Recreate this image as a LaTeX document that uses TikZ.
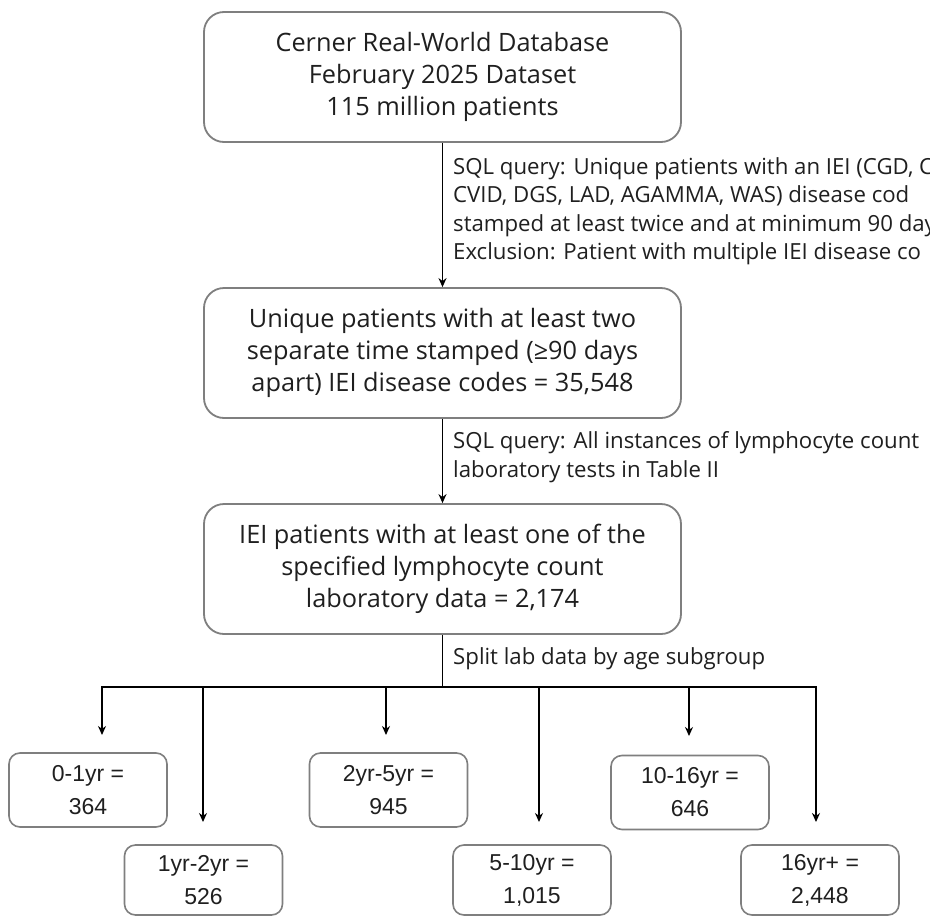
\documentclass[tikz,border=0pt]{standalone}
\usepackage{fontspec}
\setmainfont{Open Sans}
\newfontfamily\arialf{Liberation Sans}
\usetikzlibrary{arrows.meta}
\definecolor{boxgray}{HTML}{7F7F7F}
\definecolor{txt}{HTML}{1F1F1F}
\begin{document}
\begin{tikzpicture}[x=1pt,y=-1pt,
  box/.style={draw=boxgray, line width=1.8pt, rounded corners=20pt, align=center, text=txt,
    font=\fontsize{25.3}{32}\selectfont, minimum width=477pt, minimum height=130pt, inner sep=0pt},
  sbox/.style={draw=boxgray, line width=1.6pt, rounded corners=11pt, align=center, text=txt,
    font=\arialf\fontsize{23}{33}\selectfont, minimum width=158pt, minimum height=74pt, inner sep=0pt},
  lbl/.style={anchor=west, align=left, text=txt, inner sep=0pt, font=\fontsize{22.2}{28.5}\selectfont},
  arr/.style={line width=1.7pt, -{Stealth[length=9pt,width=8pt]}},
  ln/.style={line width=1.9pt}
]
\useasboundingbox (0,0) rectangle (930,916);
\fill[white] (0,0) rectangle (930,916);

% main boxes
\node[box] (b1) at (442.5,77) {Cerner Real-World Database\\February 2025 Dataset\\115 million patients};
\node[box] (b2) at (442.5,353) {Unique patients with at least two\\separate time stamped (≥90 days\\apart) IEI disease codes = 35,548};
\node[box] (b3) at (442.5,569) {IEI patients with at least one of the\\specified lymphocyte count\\laboratory data = 2,174};

\draw[arr] (b1.south) -- (b2.north);
\draw[arr] (b2.south) -- (b3.north);

% labels (cut at the right edge as in the source)
\node[lbl] (l1) at (453,211) {SQL query: Unique patients with an IEI (CGD, C\\CVID, DGS, LAD, AGAMMA, WAS) disease cod\\stamped at least twice and at minimum 90 day\\Exclusion: Patient with multiple IEI disease co};
\node[lbl] (l2) at (453,457) {SQL query: All instances of lymphocyte count\\laboratory tests in Table II};
\node[lbl] (l3) at (453,659) {Split lab data by age subgroup};

% bus
\coordinate (j) at (442.5,687);
\coordinate (bl) at (102,687);
\coordinate (br) at (816,687);
\draw[ln] (b3.south) -- (j);
\draw[ln, line cap=rect] (bl) -- (br);

% arrow start and end points
\coordinate (s01) at (102,687);   \coordinate (t01) at (102,735);
\coordinate (s12) at (203,687);   \coordinate (t12) at (203,822);
\coordinate (s25) at (386,687);   \coordinate (t25) at (386,735);
\coordinate (s510) at (539,687);  \coordinate (t510) at (539,822);
\coordinate (s1016) at (689,687); \coordinate (t1016) at (689,736);
\coordinate (s16) at (816,687);   \coordinate (t16) at (816,822);
\foreach \n in {01,12,25,510,1016,16} \draw[arr] (s\n) -- (t\n);

% bottom boxes
\node[sbox] (b01) at (88,790) {0-1yr =\\364};
\node[sbox, minimum height=70pt] (b12) at (203.5,880) {1yr-2yr =\\526};
\node[sbox] (b25) at (388.5,790) {2yr-5yr =\\945};
\node[sbox, minimum height=70pt] (b510) at (532,880) {5-10yr =\\1,015};
\node[sbox] (b1016) at (690,792.5) {10-16yr =\\646};
\node[sbox, minimum height=70pt] (b16) at (820,880) {16yr+ =\\2,448};
\end{tikzpicture}
\end{document}
